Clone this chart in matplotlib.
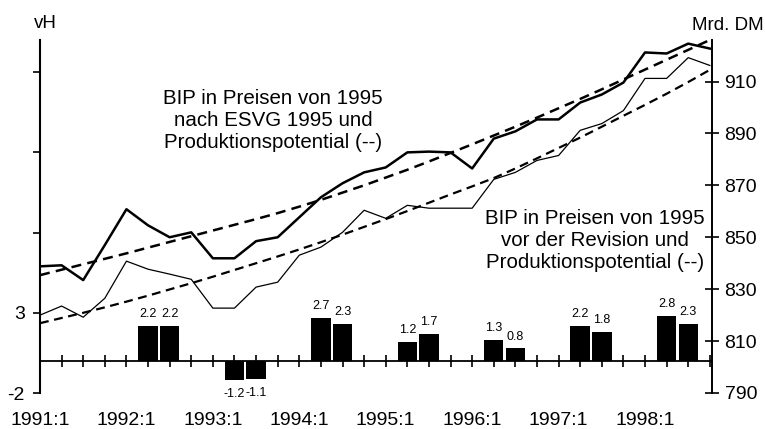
# BIP in Preisen von 1995 (Mrd. DM) und Veränderung gg. Vorjahr (vH)
import numpy as np
import matplotlib.pyplot as plt

plt.rcParams['font.family'] = ['Liberation Sans', 'DejaVu Sans']

# Quartale 1991:1 ... 1998:4
x_labels = ['1991:1', '1992:1', '1993:1', '1994:1', '1995:1', '1996:1', '1997:1', '1998:1']

# Mrd. DM, rechte Achse
bip_esvg = [838.8, 839.2, 833.5, 847.0, 860.8, 854.6, 850.0, 851.9,
            841.9, 841.9, 848.5, 850.0, 857.7, 865.4, 870.8, 875.0,
            876.9, 882.7, 883.0, 882.7, 876.5, 888.0, 890.8, 895.4,
            895.4, 901.9, 905.0, 909.6, 921.2, 920.8, 924.6, 922.7]
bip_alt = [820.0, 823.5, 819.2, 826.5, 840.8, 837.7, 835.8, 833.8,
           822.7, 822.7, 830.8, 832.7, 843.1, 846.2, 851.9, 860.4,
           857.3, 862.3, 861.2, 861.2, 861.2, 872.3, 875.0, 879.6,
           881.5, 891.2, 893.8, 898.8, 911.2, 911.2, 919.2, 916.2]
pot_esvg = [835.4, 837.5, 839.6, 841.7, 843.8, 846.0, 848.2, 850.4,
            852.6, 854.8, 857.0, 859.3, 861.8, 864.4, 867.2, 870.0,
            873.0, 876.0, 879.2, 882.5, 885.8, 889.2, 892.6, 896.1,
            899.7, 903.3, 907.0, 910.8, 914.6, 918.4, 922.2, 926.0]
pot_alt = [816.9, 818.9, 820.9, 823.0, 825.2, 827.5, 829.9, 832.3,
           834.8, 837.4, 840.0, 842.6, 845.3, 848.1, 851.0, 854.0,
           857.0, 860.1, 863.3, 866.5, 869.6, 872.8, 876.5, 880.4,
           884.4, 888.4, 892.6, 896.8, 901.0, 905.3, 909.8, 914.5]

# vH, linke Achse (Jahreswerte)
jahre = [1992, 1993, 1994, 1995, 1996, 1997, 1998]
vh_esvg = [2.2, -1.2, 2.7, 1.2, 1.3, 2.2, 2.8]
vh_alt = [2.2, -1.1, 2.3, 1.7, 0.8, 1.8, 2.3]


def main():
    fig = plt.figure(figsize=(7.65, 4.29), dpi=100)
    ax = fig.add_axes([40 / 765, 1 - 393 / 429, 672 / 765, 353 / 429])

    q = np.arange(len(bip_esvg))
    # Balken im 2. und 3. Quartal des jeweiligen Jahres
    pos1 = [4 * (j - 1991) + 1 for j in jahre]
    pos2 = [p + 1 for p in pos1]
    ax.bar(pos1, vh_esvg, width=0.9, color='black', zorder=3)
    ax.bar(pos2, vh_alt, width=0.9, color='black', zorder=3)
    for xs, vals in ((pos1, vh_esvg), (pos2, vh_alt)):
        for x, v in zip(xs, vals):
            if v > 0:
                ax.annotate(f'{v:.1f}', (x, v), xytext=(0, 4), textcoords='offset points',
                            ha='center', va='bottom', fontsize=9)
            else:
                ax.annotate(f'{v:.1f}', (x, v), xytext=(0, -6), textcoords='offset points',
                            ha='center', va='top', fontsize=9)

    ax.set_xlim(0, 31.1)
    ax.set_ylim(-2, 20)
    ax.set_yticks([-2, 3, 8, 13, 18], ['-2', '3', '', '', ''])
    ax.tick_params(axis='y', direction='out', length=5, width=1.2, labelsize=14, pad=6)
    ax.spines['left'].set_linewidth(1.5)
    ax.spines['top'].set_visible(False)
    ax.spines['right'].set_visible(False)
    # Nulllinie mit Quartalsstrichen
    ax.spines['bottom'].set_position(('data', 0))
    ax.spines['bottom'].set_linewidth(1.3)
    ax.set_xticks(q)
    ax.tick_params(axis='x', direction='inout', length=9, width=1.2, labelbottom=False)

    sec = ax.secondary_xaxis('bottom')
    sec.set_xticks(q[::4], x_labels)
    sec.tick_params(length=0, pad=14, labelsize=14)
    sec.spines['bottom'].set_visible(False)

    ax2 = ax.twinx()
    ax2.plot(q, bip_esvg, color='black', lw=1.8)
    ax2.plot(q, bip_alt, color='black', lw=0.9)
    ax2.plot(q, pot_esvg, color='black', lw=1.8, dashes=(4, 2.5))
    ax2.plot(q, pot_alt, color='black', lw=1.6, dashes=(4, 2.5))
    ax2.set_ylim(790, 926)
    ax2.set_yticks(range(790, 911, 20))
    ax2.tick_params(direction='inout', length=10, width=1.2, labelsize=14, pad=4)
    ax2.spines['right'].set_linewidth(1.4)
    for s in ('top', 'left', 'bottom'):
        ax2.spines[s].set_visible(False)

    fig.text(45 / 765, 1 - 24 / 429, 'vH', ha='center', va='center', fontsize=13.5)
    fig.text(728 / 765, 1 - 25 / 429, 'Mrd. DM', ha='center', va='center', fontsize=13.5)
    fig.text(273 / 765, 1 - 120 / 429, 'BIP in Preisen von 1995\nnach ESVG 1995 und\nProduktionspotential (--)',
             ha='center', va='center', fontsize=14.8, linespacing=1.2)
    fig.text(595 / 765, 1 - 241 / 429, 'BIP in Preisen von 1995\nvor der Revision und\nProduktionspotential (--)',
             ha='center', va='center', fontsize=14.8, linespacing=1.2)

    fig.savefig('out.png', dpi=100)


if __name__ == '__main__':
    main()
